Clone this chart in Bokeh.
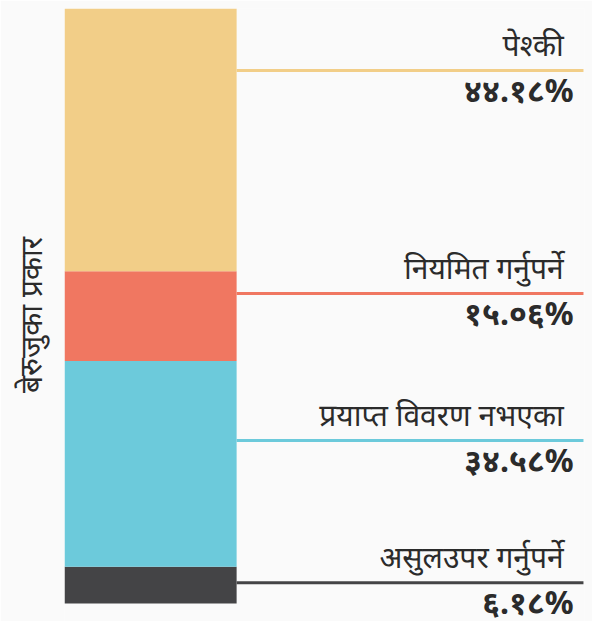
from bokeh.plotting import figure
from bokeh.models import ColumnDataSource
from bokeh.core.properties import value
from bokeh.embed import file_html
from bokeh.resources import INLINE

# Data (bottom to top)
categories = ["असुलउपर गर्नुपर्ने", "प्रयाप्त विवरण नभएका", "नियमित गर्नुपर्ने", "पेश्की"]
values = [6.18, 34.58, 15.06, 44.18]
pct_labels = ["६.१८%", "३४.५८%", "१५.०६%", "४४.१८%"]
colors = ["#444446", "#6ccadb", "#f07761", "#f2ce88"]
axis_title = "बेरुजुका प्रकार"

# layout (where each leader line sits, in axis units)
leader_y = [3.5, 27.4, 52.1, 89.6]

bottoms, tops = [], []
acc = 0.0
for v in values:
    bottoms.append(acc)
    acc += v
    tops.append(acc)

BAR_W = 0.331
src = ColumnDataSource(dict(
    cat=categories, val=values, pct=pct_labels, color=colors,
    bottom=bottoms, top=tops, ly=leader_y,
    x0=[BAR_W] * 4, x1=[0.998] * 4,
    tx=[0.96] * 4, px=[0.979] * 4,
))

FONT = "Noto Sans"
# frame extends 18px below the bar so the last label is not clipped
y_pad = acc * 18.0 / 595.0
p = figure(width=592, height=621, x_range=(0, 1), y_range=(-y_pad, acc),
           output_backend="svg", toolbar_location=None,
           min_border_left=64, min_border_right=8, min_border_top=8,
           min_border_bottom=0)
p.background_fill_color = "#fafafa"
p.border_fill_color = "#fafafa"
p.outline_line_color = None
p.grid.visible = False
p.xaxis.visible = False

p.quad(left=0, right=BAR_W, bottom="bottom", top="top", color="color",
       line_color=None, source=src)
p.segment(x0="x0", y0="ly", x1="x1", y1="ly", line_color="color",
          line_width=3, source=src)
p.text(x="tx", y="ly", text="cat", source=src, text_align="right",
       text_baseline="alphabetic", y_offset=-26, text_font=value(FONT),
       text_font_size="30px", text_color="#2b2b2b")
p.text(x="px", y="ly", text="pct", source=src, text_align="right",
       text_baseline="alphabetic", y_offset=19, text_font=value(FONT),
       text_font_size="32px", text_font_style="bold", text_color="#2b2b2b")

ax = p.yaxis[0]
ax.axis_label = axis_title
ax.axis_label_text_font = FONT
ax.axis_label_text_font_size = "30px"
ax.axis_label_text_font_style = "normal"
ax.axis_label_text_color = "#2b2b2b"
ax.axis_label_standoff = 8
ax.axis_line_color = None
ax.major_tick_line_color = None
ax.minor_tick_line_color = None
ax.major_label_text_font_size = "0px"
ax.major_label_standoff = 0

open("out.html", "w").write(file_html(p, INLINE))
